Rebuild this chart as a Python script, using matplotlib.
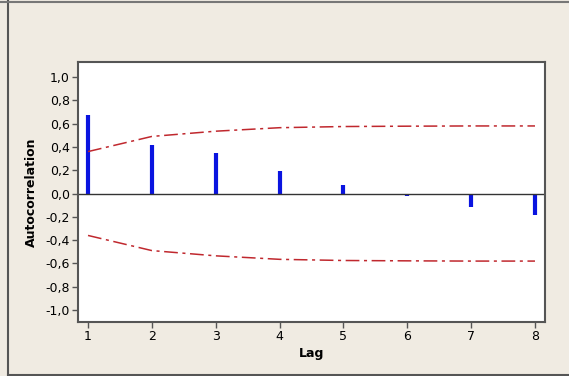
import matplotlib
matplotlib.use('Agg')
import matplotlib.pyplot as plt
from matplotlib.lines import Line2D
from matplotlib.ticker import FuncFormatter
import numpy as np

lags = [1, 2, 3, 4, 5, 6, 7, 8]
acf = [0.67, 0.42, 0.35, 0.19, 0.07, -0.025, -0.12, -0.185]
limit = [0.36, 0.49, 0.535, 0.565, 0.575, 0.578, 0.58, 0.58]

bg = '#f0ebe2'
fig = plt.figure(figsize=(5.69, 3.76), dpi=100, facecolor=bg)
ax = fig.add_axes([78 / 569, 1 - 322 / 376, 467 / 569, 260 / 376])
ax.set_facecolor('white')

ax.vlines(lags, 0, acf, colors='#0a14e0', linewidth=3)
ax.axhline(0, color='#333333', linewidth=1)
ax.plot(lags, limit, color='#c0282e', linewidth=1.1, dashes=(9, 3, 2, 3))
ax.plot(lags, -np.array(limit), color='#c0282e', linewidth=1.1, dashes=(9, 3, 2, 3))

ax.set_xlim(0.843, 8.157)
ax.set_ylim(-1.103, 1.129)
ax.set_xticks(lags)
ax.set_yticks(np.arange(-1.0, 1.01, 0.2))
ax.yaxis.set_major_formatter(FuncFormatter(lambda v, p: f'{v:.1f}'.replace('.', ',').replace('-0,0', '0,0')))

for s in ax.spines.values():
    s.set_color('#555555')
    s.set_linewidth(1.5)
ax.tick_params(direction='out', length=4, width=1, color='#555555', labelsize=9, pad=2)

ax.set_ylabel('Autocorrelation', fontsize=9, fontweight='bold', labelpad=5)
ax.set_xlabel('Lag', fontsize=9, fontweight='bold', labelpad=3)

# window frame lines
fig.add_artist(Line2D([7.5 / 569, 7.5 / 569], [0, 1], color='#555555', linewidth=1.5))
fig.add_artist(Line2D([0, 1], [1 - 2 / 376, 1 - 2 / 376], color='#777777', linewidth=1.5))
fig.add_artist(Line2D([7.5 / 569, 1], [1 - 374.5 / 376, 1 - 374.5 / 376], color='#555555', linewidth=1.5))

fig.savefig('out.png', dpi=100, facecolor=bg)
